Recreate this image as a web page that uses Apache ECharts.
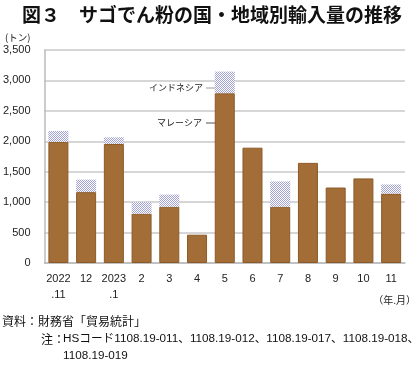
<!DOCTYPE html>
<html><head><meta charset="utf-8">
<script src="https://cdn.jsdelivr.net/npm/echarts@6/dist/echarts.min.js"></script>
<style>html,body{margin:0;padding:0;background:#fff}#c{width:420px;height:367px}</style>
</head><body><div id="c"></div>
<script>
const categories = ['2022\n.11','12','2023\n.1','2','3','4','5','6','7','8','9','10','11'];
const malaysia = [1990, 1165, 1955, 810, 925, 465, 2790, 1895, 925, 1645, 1240, 1390, 1140];
const indonesia = [180, 205, 110, 190, 200, 0, 355, 0, 415, 0, 0, 0, 150];
const yTicks = [0, 500, 1000, 1500, 2000, 2500, 3000, 3500];

const pc = document.createElement('canvas');
pc.width = 2; pc.height = 2;
const g = pc.getContext('2d');
g.fillStyle = '#ffffff'; g.fillRect(0,0,2,2);
g.fillStyle = '#a2a2d6'; g.fillRect(0,0,1,1); g.fillRect(1,1,1,1);

const font = '"Noto Sans CJK JP", "Noto Sans", sans-serif';
const mixFont = '"Liberation Sans", "Noto Sans CJK JP", sans-serif';
const chart = echarts.init(document.getElementById('c'), null, {renderer:'canvas'});
chart.setOption({
  animation: false,
  textStyle: {fontFamily: font},
  grid: {left: 41, right: 15, top: 50, bottom: 104, containLabel: false},
  xAxis: {
    type: 'category', data: categories,
    axisLine: {show: true, lineStyle: {color: '#bbbbbb', width: 1.5}},
    axisTick: {show: false},
    axisLabel: {color: '#222', fontSize: 11, margin: 8, lineHeight: 16, interval: 0, fontFamily: 'Liberation Sans, Arial, sans-serif'}
  },
  yAxis: {
    type: 'value', min: yTicks[0], max: yTicks[yTicks.length-1], interval: 500,
    axisLine: {show: true, lineStyle: {color: '#bbbbbb', width: 1.5}},
    axisTick: {show: false},
    splitLine: {lineStyle: {color: '#c8c8c8', width: 1.5}},
    axisLabel: {color: '#222', fontSize: 11, margin: 14, fontFamily: 'Liberation Sans, Arial, sans-serif',
      formatter: v => v.toLocaleString('en-US')}
  },
  series: [
    {name: 'マレーシア', type: 'bar', stack: 's', data: malaysia, barWidth: 20,
     itemStyle: {color: '#a26d37', borderColor: '#8c5a26', borderWidth: 1}},
    {name: 'インドネシア', type: 'bar', stack: 's', data: indonesia, barWidth: 20,
     itemStyle: {color: {image: pc, repeat: 'repeat'}}}
  ],
  graphic: [
    {type: 'text', x: 22, y: 15, style: {text: '図３　サゴでん粉の国・地域別輸入量の推移', font: 'bold 19px ' + font, fill: '#111', verticalAlign: 'middle'}},
    {type: 'text', x: 5, y: 37, style: {text: '(トン)', font: '9.5px ' + font, fill: '#222', verticalAlign: 'middle'}},
    {type: 'text', x: 416, y: 300, style: {text: '（年.月）', font: '10px ' + font, fill: '#222', verticalAlign: 'middle', align: 'right'}},
    {type: 'text', x: 203, y: 88, style: {text: 'インドネシア', font: '9px ' + font, fill: '#222', verticalAlign: 'middle', align: 'right'}},
    {type: 'line', shape: {x1: 206, y1: 88, x2: 221, y2: 88}, style: {stroke: '#999', lineWidth: 1}},
    {type: 'text', x: 202, y: 123, style: {text: 'マレーシア', font: '9px ' + font, fill: '#222', verticalAlign: 'middle', align: 'right'}},
    {type: 'line', shape: {x1: 206, y1: 123, x2: 221, y2: 123}, style: {stroke: '#555', lineWidth: 1}},
    {type: 'text', x: 2, y: 321, style: {text: '資料：財務省「貿易統計」', font: '12px ' + font, fill: '#111', verticalAlign: 'middle'}},
    {type: 'text', x: 41, y: 339, style: {text: '注：', font: '12px ' + font, fill: '#111', verticalAlign: 'middle'}},
    {type: 'text', x: 63, y: 339, style: {text: 'HSコード1108.19-011、1108.19-012、1108.19-017、1108.19-018、', font: '11.7px ' + mixFont, fill: '#111', verticalAlign: 'middle'}},
    {type: 'text', x: 63, y: 356, style: {text: '1108.19-019', font: '11.7px ' + mixFont, fill: '#111', verticalAlign: 'middle'}}
  ]
});
</script></body></html>
